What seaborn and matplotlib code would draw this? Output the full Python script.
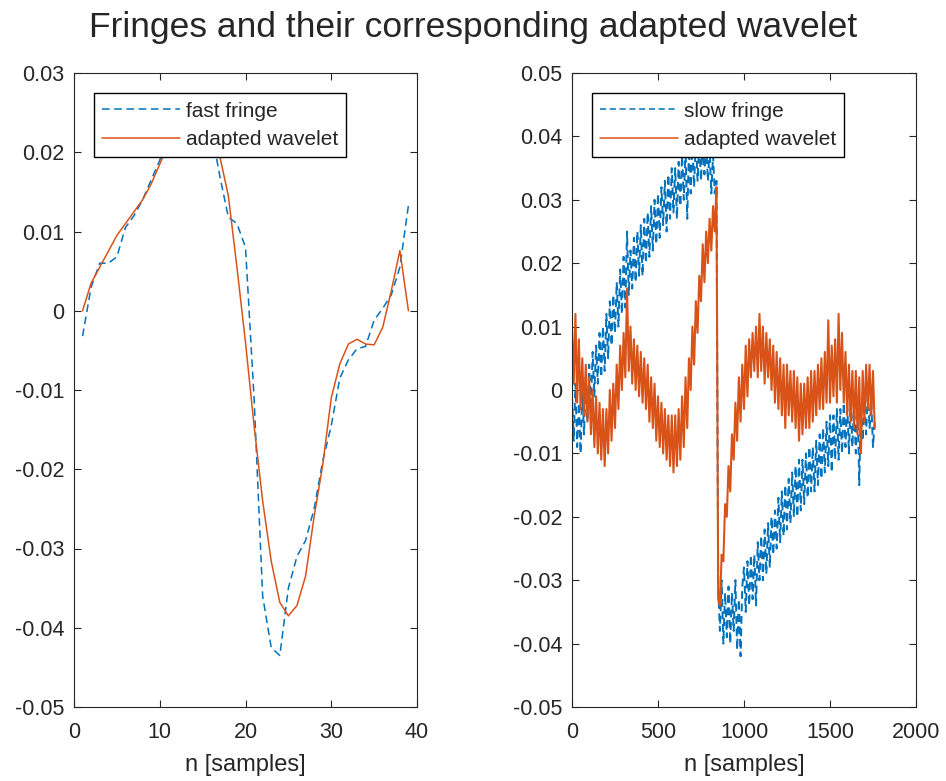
import numpy as np
import pandas as pd
import matplotlib
matplotlib.use("Agg")
import matplotlib.pyplot as plt
import seaborn as sns
from matplotlib.ticker import FixedLocator, FixedFormatter

# ---------------- data ----------------
# left panel: fast fringe and its adapted wavelet, samples 1..39
fast_n = list(range(1, 40))
fast_fringe = [-0.0032, 0.003, 0.006, 0.006, 0.0068, 0.0105, 0.012, 0.014, 0.0165, 0.019,
               0.022, 0.024, 0.0255, 0.026, 0.0255, 0.023, 0.017, 0.0118, 0.011, 0.008,
               -0.011, -0.036, -0.0425, -0.0435, -0.035, -0.031, -0.029, -0.025, -0.019, -0.0145,
               -0.0085, -0.0062, -0.0048, -0.0045, -0.0012, 0.0003, 0.002, 0.0055, 0.0133]
fast_wavelet = [0.0, 0.0035, 0.0055, 0.0075, 0.0095, 0.011, 0.0125, 0.014, 0.016, 0.0185,
                0.021, 0.0235, 0.025, 0.026, 0.0255, 0.024, 0.0195, 0.0145, 0.0055, -0.004,
                -0.0145, -0.024, -0.0316, -0.0368, -0.0385, -0.0372, -0.0335, -0.026, -0.0195, -0.011,
                -0.0067, -0.0042, -0.0036, -0.0042, -0.0043, -0.0021, 0.0025, 0.0076, 0.0]

# right panel: slow fringe and its adapted wavelet, read every 10 samples (0..1760)
slow_n = list(range(0, 1761, 10))
slow_fringe = [
    -0.001, -0.008, 0.001, -0.009, -0.002, -0.010, 0.000, -0.007, 0.002, -0.005,
    0.004, -0.003, 0.006, -0.001, 0.007, 0.001, 0.009, 0.002, 0.010, 0.003,
    0.012, 0.005, 0.014, 0.007, 0.015, 0.009, 0.017, 0.010, 0.019, 0.012,
    0.021, 0.013, 0.025, 0.015, 0.022, 0.016, 0.024, 0.017, 0.025, 0.018,
    0.026, 0.018, 0.027, 0.020, 0.028, 0.021, 0.029, 0.022, 0.030, 0.023,
    0.031, 0.024, 0.032, 0.026, 0.033, 0.025, 0.034, 0.027, 0.035, 0.028,
    0.035, 0.027, 0.036, 0.029, 0.037, 0.030, 0.038, 0.027, 0.038, 0.031,
    0.039, 0.032, 0.040, 0.033, 0.039, 0.033, 0.040, 0.034, 0.039, 0.033,
    0.038, 0.031, 0.037, 0.031, 0.033, -0.031, -0.038, -0.030, -0.040, -0.032,
    -0.039, -0.031, -0.040, -0.032, -0.038, -0.030, -0.041, -0.033, -0.042, -0.031,
    -0.028, -0.035, -0.027, -0.034, -0.026, -0.033, -0.026, -0.034, -0.024, -0.030,
    -0.023, -0.030, -0.022, -0.029, -0.021, -0.028, -0.020, -0.026, -0.019, -0.025,
    -0.017, -0.024, -0.016, -0.023, -0.015, -0.022, -0.014, -0.021, -0.013, -0.020,
    -0.012, -0.020, -0.011, -0.019, -0.011, -0.018, -0.010, -0.017, -0.009, -0.016,
    -0.009, -0.016, -0.008, -0.015, -0.007, -0.014, -0.006, -0.013, -0.005, -0.012,
    -0.004, -0.013, -0.004, -0.011, -0.003, -0.011, -0.003, -0.010, -0.002, -0.009,
    -0.002, -0.010, -0.001, -0.009, -0.002, -0.010, -0.001, -0.015, -0.002, -0.008,
    -0.001, -0.007, 0.000, -0.006, -0.002, -0.009, -0.005]
slow_wavelet = [
    0.010, 0.001, 0.012, -0.002, 0.008, -0.003, 0.005, -0.004, 0.004, -0.005,
    0.002, -0.007, 0.000, -0.009, -0.001, -0.010, -0.002, -0.011, -0.003, -0.012,
    -0.003, -0.010, 0.000, -0.008, 0.001, -0.006, 0.004, -0.003, 0.007, 0.000,
    0.009, 0.002, 0.016, 0.003, 0.010, 0.001, 0.008, 0.000, 0.007, -0.001,
    0.006, -0.002, 0.005, -0.003, 0.004, -0.005, 0.002, -0.006, 0.001, -0.008,
    -0.001, -0.009, -0.002, -0.010, -0.003, -0.011, -0.004, -0.012, -0.004, -0.013,
    -0.004, -0.012, -0.003, -0.011, -0.001, -0.009, 0.002, -0.006, 0.005, 0.000,
    0.010, 0.004, 0.014, 0.009, 0.018, 0.014, 0.023, 0.017, 0.025, 0.020,
    0.027, 0.022, 0.029, 0.025, 0.032, -0.033, -0.034, -0.026, -0.027, -0.018,
    -0.020, -0.012, -0.016, -0.007, -0.011, -0.002, -0.008, 0.002, -0.005, 0.004,
    -0.003, 0.007, -0.001, 0.008, 0.002, 0.009, 0.003, 0.010, 0.002, 0.012,
    0.003, 0.010, 0.001, 0.009, 0.002, 0.008, 0.000, 0.007, -0.002, 0.006,
    -0.003, 0.005, -0.004, 0.004, -0.006, 0.004, -0.004, 0.003, -0.005, 0.003,
    -0.006, 0.002, -0.008, 0.001, -0.007, 0.001, -0.006, 0.002, -0.006, 0.003,
    -0.005, 0.003, -0.004, 0.004, -0.003, 0.005, -0.003, 0.006, -0.002, 0.011,
    -0.002, 0.007, -0.001, 0.008, -0.002, 0.012, 0.000, 0.009, -0.002, 0.006,
    -0.004, 0.004, -0.005, 0.003, -0.006, 0.003, -0.007, 0.002, -0.010, 0.003,
    -0.005, 0.004, -0.003, 0.004, -0.004, 0.003, -0.006]

title_text = "Fringes and their corresponding adapted wavelet"
xlabel_text = "n [samples]"
left_labels = ["fast fringe", "adapted wavelet"]
right_labels = ["slow fringe", "adapted wavelet"]
y_ticks = [-0.05, -0.04, -0.03, -0.02, -0.01, 0, 0.01, 0.02, 0.03, 0.04, 0.05]
y_tick_labels = ["-0.05", "-0.04", "-0.03", "-0.02", "-0.01", "0", "0.01", "0.02", "0.03", "0.04", "0.05"]
left_xticks = [0, 10, 20, 30, 40]
right_xticks = [0, 500, 1000, 1500, 2000]

# ---------------- style ----------------
sns.set_theme(style="white")
plt.rcParams["font.family"] = ["Liberation Sans", "DejaVu Sans"]
TXT = "#262626"
BLUE = "#0072BD"
RED = "#D95319"

fig = plt.figure(figsize=(9.46, 7.81), dpi=100)
W, H = 946, 781
axL = fig.add_axes([74 / W, (H - 707) / H, (417 - 74) / W, (707 - 73) / H])
axR = fig.add_axes([572 / W, (H - 707) / H, (916 - 572) / W, (707 - 73) / H])

df_fast = pd.DataFrame({"n": fast_n, "fringe": fast_fringe, "wavelet": fast_wavelet})
df_slow = pd.DataFrame({"n": slow_n, "fringe": slow_fringe, "wavelet": slow_wavelet})

dash = (0, (5, 3))
sns.lineplot(data=df_fast, x="n", y="fringe", ax=axL, color=BLUE, lw=1.1,
             estimator=None, sort=False, label=left_labels[0], linestyle=dash)
sns.lineplot(data=df_fast, x="n", y="wavelet", ax=axL, color=RED, lw=1.1,
             estimator=None, sort=False, label=left_labels[1])
sns.lineplot(data=df_slow, x="n", y="fringe", ax=axR, color=BLUE, lw=1.4,
             estimator=None, sort=False, label=right_labels[0], linestyle=(0, (4, 2.4)))
sns.lineplot(data=df_slow, x="n", y="wavelet", ax=axR, color=RED, lw=1.5,
             estimator=None, sort=False, label=right_labels[1])

for ax, xt, xlim, ylim in [(axL, left_xticks, (0, 40), (-0.05, 0.03)),
                           (axR, right_xticks, (0, 2000), (-0.05, 0.05))]:
    ax.set_xlim(*xlim)
    ax.set_ylim(*ylim)
    ax.xaxis.set_major_locator(FixedLocator(xt))
    ax.xaxis.set_major_formatter(FixedFormatter([str(v) for v in xt]))
    yt = [v for v in y_ticks if ylim[0] - 1e-9 <= v <= ylim[1] + 1e-9]
    ytl = [l for v, l in zip(y_ticks, y_tick_labels) if ylim[0] - 1e-9 <= v <= ylim[1] + 1e-9]
    ax.yaxis.set_major_locator(FixedLocator(yt))
    ax.yaxis.set_major_formatter(FixedFormatter(ytl))
    ax.tick_params(direction="in", length=5, width=0.8, colors=TXT, labelsize=15.5,
                   top=True, right=True, bottom=True, left=True, pad=7)
    ax.tick_params(axis="x", pad=11)
    for sp in ax.spines.values():
        sp.set_color(TXT)
        sp.set_linewidth(0.8)
        sp.set_visible(True)
    ax.set_xlabel(xlabel_text, fontsize=17, color=TXT, labelpad=8)
    ax.set_ylabel("")
    leg = ax.legend(loc="upper left", bbox_to_anchor=(0.058, 0.968), borderaxespad=0,
                    frameon=True, fancybox=False, edgecolor="black", framealpha=1,
                    fontsize=15, handlelength=3.75, handletextpad=0.25, labelspacing=0.45,
                    borderpad=0.4)
    leg.get_frame().set_linewidth(1.0)
    for line in leg.get_lines():
        line.set_linewidth(1.1)
    for t in leg.get_texts():
        t.set_color(TXT)

fig.suptitle(title_text, x=0.5, y=1 - 28 / H, va="center", fontsize=25.5, color=TXT)
fig.savefig("out.png", dpi=100)
